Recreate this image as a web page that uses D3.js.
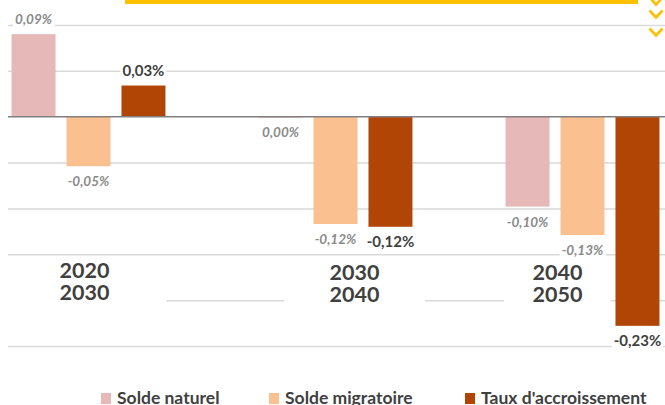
<!DOCTYPE html>
<html>
<head>
<meta charset="utf-8">
<script src="https://cdn.jsdelivr.net/npm/d3@7"></script>
<style>
  body { margin: 0; background: #fff; }
  svg { display: block; }
</style>
</head>
<body>
<svg id="chart"></svg>
<script>
// periods, series, values (in %)
const periods = ["2020-2030", "2030-2040", "2040-2050"];
const periodLines = [["2020", "2030"], ["2030", "2040"], ["2040", "2050"]];
const seriesNames = ["Solde naturel", "Solde migratoire", "Taux d'accroissement"];
const soldeNaturel = [0.090, 0.000, -0.098];
const soldeMigratoire = [-0.054, -0.117, -0.129];
const tauxAccroissement = [0.034, -0.120, -0.228];
const gridTicks = [-0.25, -0.20, -0.15, -0.10, -0.05, 0.05, 0.10];

const colors = ["#E6B8B7", "#FAC090", "#B04506"];

const W = 665, H = 405;
const svg = d3.select("#chart").attr("width", W).attr("height", H);

const fr = d3.formatLocale({ decimal: ",", thousands: " ", grouping: [3], currency: ["", ""], minus: "-" });
const fmt = v => fr.format(".2f")(v) + "%";

const rows = periods.map((p, i) => ({
    period: p,
    values: [soldeNaturel[i], soldeMigratoire[i], tauxAccroissement[i]]
}));

const y = d3.scaleLinear().domain([-0.25, 0.10]).range([346, 25]);

const x0 = d3.scaleBand()
    .domain(periods)
    .range([-35, 706])
    .paddingInner(0.377)
    .paddingOuter(0.1885);

const x1 = d3.scaleBand()
    .domain(seriesNames)
    .range([0, x0.bandwidth()])
    .paddingInner(0.2);

// top decoration
svg.append("rect").attr("x", 125).attr("y", -2).attr("width", 513).attr("height", 6).attr("fill", "#FFC000");
[1, 14, 32].forEach(cy => {
    svg.append("polyline")
        .attr("points", `649.5,${cy - 3.5} 656,${cy + 3.5} 662.5,${cy - 3.5}`)
        .attr("fill", "none").attr("stroke", "#FFC000").attr("stroke-width", 2.6);
});

// gridlines
svg.append("g")
    .attr("transform", "translate(8,0)")
    .call(d3.axisLeft(y).tickValues(gridTicks).tickSize(-(W - 8)).tickFormat(""))
    .call(g => g.select(".domain").remove())
    .call(g => g.selectAll(".tick line").attr("stroke", "#D9D9D9").attr("stroke-width", 1.5));

// bars
const groups = svg.selectAll("g.grp")
    .data(rows)
    .join("g")
    .attr("class", "grp")
    .attr("transform", d => `translate(${x0(d.period)},0)`);

groups.selectAll("rect")
    .data(d => d.values.map((v, k) => ({ v, k })))
    .join("rect")
    .attr("x", d => x1(seriesNames[d.k]))
    .attr("y", d => Math.min(y(d.v), y(0)))
    .attr("width", x1.bandwidth())
    .attr("height", d => Math.max(1, Math.abs(y(d.v) - y(0))))
    .attr("fill", d => colors[d.k]);

// zero line
svg.append("line")
    .attr("x1", 8).attr("x2", W)
    .attr("y1", y(0)).attr("y2", y(0))
    .attr("stroke", "#808080").attr("stroke-width", 1.5);

// data labels
rows.forEach(r => {
    r.values.forEach((v, k) => {
        const cx = x0(r.period) + x1(seriesNames[k]) + x1.bandwidth() / 2;
        const ty = v > 0 ? y(v) - 10 : y(v) + 20;
        const bold = k === 2;
        const t = svg.append("text")
            .attr("x", cx).attr("y", ty)
            .attr("text-anchor", "middle")
            .attr("font-family", "Lato, sans-serif")
            .attr("font-size", bold ? 15 : 13.5)
            .attr("font-weight", "bold")
            .attr("font-style", bold ? "normal" : "italic")
            .attr("fill", bold ? "#404040" : "#8A8A8A")
            .text(fmt(v));
        const bb = t.node().getBBox();
        svg.insert("rect", () => t.node())
            .attr("x", bb.x - 2).attr("y", bb.y)
            .attr("width", bb.width + 4).attr("height", bb.height)
            .attr("fill", "#fff");
    });
});

// category labels (placed low, with white box)
const catShift = [-4, 19, -25];
const catBoxW = [164, 141, 107];
periods.forEach((p, i) => {
    const cx = x0(p) + x0.bandwidth() / 2 + catShift[i];
    const base = i === 0 ? 278 : 280;
    svg.append("rect")
        .attr("x", cx - catBoxW[i] / 2).attr("y", 258)
        .attr("width", catBoxW[i]).attr("height", 50)
        .attr("fill", "#fff");
    periodLines[i].forEach((line, j) => {
        svg.append("text")
            .attr("x", cx).attr("y", base + j * 22)
            .attr("text-anchor", "middle")
            .attr("font-family", "Lato, sans-serif")
            .attr("font-size", 21.5)
            .attr("font-weight", "bold")
            .attr("fill", "#404040")
            .text(line);
    });
});

// legend
const legendX = [101, 269, 465];
const legend = svg.selectAll("g.leg")
    .data(seriesNames)
    .join("g")
    .attr("class", "leg")
    .attr("transform", (d, i) => `translate(${legendX[i]},393)`);

legend.append("rect")
    .attr("width", 10).attr("height", 11)
    .attr("fill", (d, i) => colors[i]);

legend.append("text")
    .attr("x", 16).attr("y", 10.5)
    .attr("font-family", "Lato, sans-serif")
    .attr("font-size", 17.5)
    .attr("font-weight", "bold")
    .attr("fill", "#404040")
    .text(d => d);
</script>
</body>
</html>
